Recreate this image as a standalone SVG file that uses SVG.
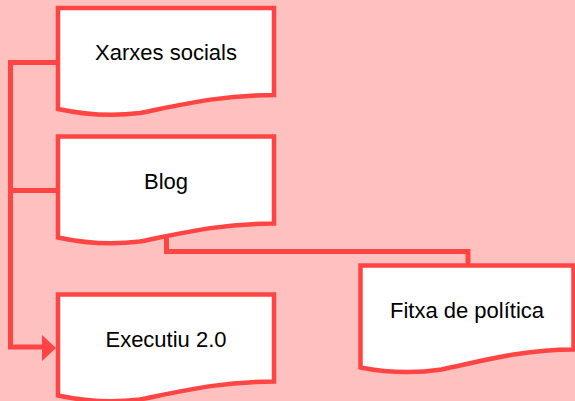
<svg xmlns="http://www.w3.org/2000/svg" width="575" height="401" viewBox="0 0 575 401">
<style>
.bg{fill:#FFC0C0}
.node path{fill:#FFFFFF;stroke:#FF4444;stroke-width:4.5;stroke-linejoin:miter}
.node text{font-family:"Liberation Sans",Arial,sans-serif;font-size:22px;fill:#000000;text-anchor:middle}
.conn{fill:none;stroke:#FF4444;stroke-width:5;stroke-linejoin:miter}
.arrow{fill:#FF4444}
</style>
<defs>
<path id="doc" d="M0,0 H216 V87 C162,87 122,97 82,105 Q42,110 0,101 Z"/>
</defs>
<rect class="bg" x="0" y="0" width="575" height="401"/>
<g id="connectors">
<path class="conn" d="M58,62.5 H10.5 V347 H44"/>
<path class="conn" d="M58,190.5 H10.5"/>
<polygon class="arrow" points="42,335 56,348 42,361"/>
<path class="conn" d="M166.5,230 V251.5 H468 V266"/>
</g>
<g id="node-xarxes" class="node">
<path d="M58,8 H274 V95 C220,95 180,105 140,113 Q100,118 58,109 Z"/>
<text x="166" y="60">Xarxes socials</text>
</g>
<g id="node-blog" class="node">
<path d="M58,136.5 H274 V223.5 C220,223.5 180,233.5 140,241.5 Q100,246.5 58,237.5 Z"/>
<text x="166" y="188.5">Blog</text>
</g>
<g id="node-executiu" class="node">
<path d="M58,294.5 H274 V381.5 C220,381.5 180,391.5 140,399.5 Q100,404.5 58,395.5 Z"/>
<text x="166" y="346.5">Executiu 2.0</text>
</g>
<g id="node-fitxa" class="node">
<path d="M360.5,265.5 H573.5 V349.5 C520.5,349.5 480.5,361.5 441.5,369.5 Q401.5,375.5 360.5,367.5 Z"/>
<text x="467" y="317.5">Fitxa de política</text>
</g>
</svg>
